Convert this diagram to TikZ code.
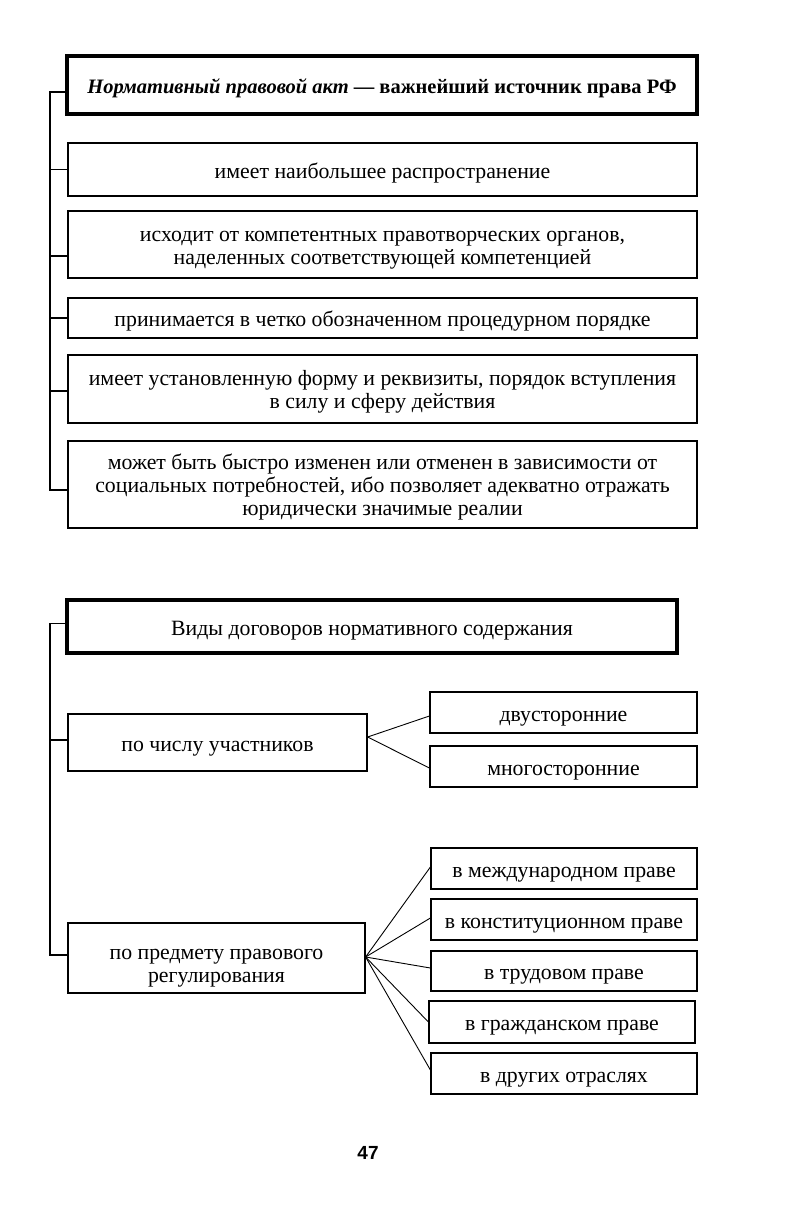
\documentclass[tikz,border=0pt]{standalone}
\usepackage{fontspec}
\setmainfont{Liberation Serif}
\newfontfamily\pagefont{Liberation Sans}
\usetikzlibrary{calc}
% multi-line text: #1 = top strut height, #2 = bottom strut depth, #3 = rows separated by \cr
\newcommand\mlines[3]{\vbox{\baselineskip=23pt\lineskiplimit=-100pt\lineskip=0pt%
  \halign{\hfil##\hfil\cr\rule{0pt}{#1}#3\rule[-#2]{0pt}{#2}\crcr}}}
\begin{document}
\begin{tikzpicture}[x=1pt,y=-1pt,
  plainbox/.style={draw, line width=1.2pt, inner sep=0pt, font=\fontsize{21.8}{23}\selectfont},
  box/.style={plainbox,
    execute at begin node={\rule{0pt}{22.5pt}}, execute at end node={\rule[-5.5pt]{0pt}{5.5pt}}},
  headbox/.style={box, line width=3.6pt},
  conn/.style={line width=1.2pt},
  fan/.style={line width=0.9pt}]
\useasboundingbox[fill=white] (0,0) rectangle (799,1232);
% section 1
\node[headbox, minimum width=630, minimum height=58, font=\fontsize{20.5}{23}\selectfont] (h1) at (382,85)
  {\bfseries\itshape Нормативный правовой акт\upshape{} — важнейший источник права РФ};
\node[box, minimum width=629, minimum height=53] (b2) at (382.5,169.5) {имеет наибольшее распространение};
\node[plainbox, minimum width=629, minimum height=67] (b3) at (382.5,244.5)
  {\mlines{21.5pt}{5.5pt}{исходит от компетентных правотворческих органов,\cr наделенных соответствующей компетенцией}};
\node[box, minimum width=629, minimum height=40] (b4) at (382.5,318) {принимается в четко обозначенном процедурном порядке};
\node[plainbox, minimum width=629, minimum height=68] (b5) at (382.5,389)
  {\mlines{20.5pt}{5.5pt}{имеет установленную форму и реквизиты, порядок вступления\cr в силу и сферу действия}};
\node[plainbox, minimum width=629, minimum height=87] (b6) at (382.5,484.5)
  {\mlines{22.5pt}{6.5pt}{может быть быстро изменен или отменен в зависимости от\cr социальных потребностей, ибо позволяет адекватно отражать\cr юридически значимые реалии}};
\coordinate (sp) at (50,0);
\coordinate (a1) at ($(h1.west)+(0,7)$);
\coordinate (a3) at ($(b3.west)+(0,11.5)$);
\coordinate (a5) at ($(b5.west)+(0,2)$);
\coordinate (a6) at ($(b6.west)+(0,5.5)$);
\draw[conn] (a1) -- (a1 -| sp) -- (a6 -| sp) -- (a6);
\draw[conn] (b2.west) -- (b2.west -| sp);
\draw[conn] (a3) -- (a3 -| sp);
\draw[conn] (b4.west) -- (b4.west -| sp);
\draw[conn] (a5) -- (a5 -| sp);
% section 2
\node[headbox, minimum width=610, minimum height=53] (h2) at (372,626.5) {Виды договоров нормативного содержания};
\node[box, minimum width=299, minimum height=57] (p1) at (217.5,742.5) {по числу участников};
\node[box, minimum width=267, minimum height=41] (r1) at (563.5,712.5) {двусторонние};
\node[box, minimum width=267, minimum height=41] (r2) at (563.5,766.5) {многосторонние};
\node[plainbox, minimum width=297, minimum height=70] (p2) at (216.5,958)
  {\mlines{30.5pt}{5.5pt}{по предмету правового\cr регулирования}};
\node[box, minimum width=266, minimum height=41] (s1) at (564,868.5) {в международном праве};
\node[box, minimum width=266, minimum height=41] (s2) at (564,919.5) {в конституционном праве};
\node[box, minimum width=266, minimum height=40] (s3) at (564,971) {в трудовом праве};
\node[box, minimum width=266, minimum height=42] (s4) at (562,1022) {в гражданском праве};
\node[box, minimum width=266, minimum height=41] (s5) at (564,1073.5) {в других отраслях};
\coordinate (c1) at ($(h2.west)+(0,-3)$);
\coordinate (c2) at ($(p1.west)+(0,-2.5)$);
\coordinate (c3) at ($(p2.west)+(0,-3)$);
\draw[conn] (c1) -- (c1 -| sp) -- (c3 -| sp) -- (c3);
\draw[conn] (c2) -- (c2 -| sp);
\coordinate (f1) at ($(p1.east)+(0,-5.5)$);
\draw[fan] (f1) -- ($(r1.west)+(0,3.5)$);
\draw[fan] (f1) -- ($(r2.west)+(0,1.5)$);
\coordinate (f2) at ($(p2.east)+(0,-1)$);
\draw[fan] (f2) -- ($(s1.west)+(0,-1.5)$);
\draw[fan] (f2) -- ($(s2.west)+(0,-1.5)$);
\draw[fan] (f2) -- ($(s3.west)+(0,-3)$);
\draw[fan] (f2) -- (s4.west);
\draw[fan] (f2) -- ($(s5.west)+(0,-3.5)$);
\node[font=\pagefont\bfseries\fontsize{19}{22}\selectfont, inner sep=0pt] (pg) at (368,1153) {47};
\end{tikzpicture}
\end{document}
